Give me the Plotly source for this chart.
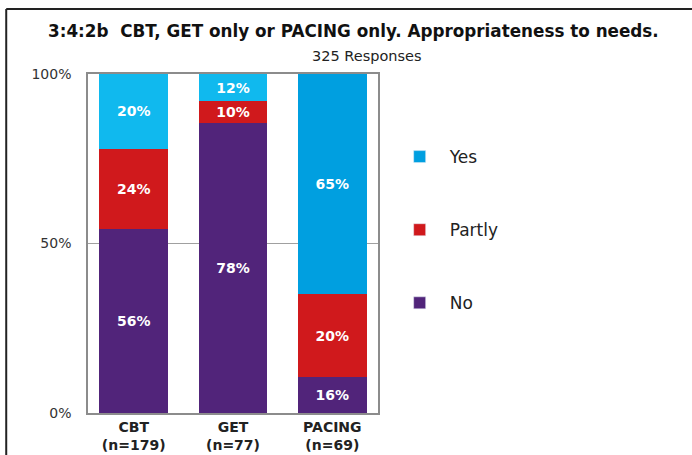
import plotly.graph_objects as go

categories = ["<b>CBT</b><br><b>(n=179)</b>", "<b>GET</b><br><b>(n=77)</b>", "<b>PACING</b><br><b>(n=69)</b>"]
series_names = ["No", "Partly", "Yes"]
# bar segment heights as drawn (% of axis)
no_vals = [54.2, 85.6, 10.6]
partly_vals = [23.7, 6.4, 24.4]
yes_vals = [22.1, 8.0, 65.0]
# printed labels
no_labels = ["56%", "78%", "16%"]
partly_labels = ["24%", "10%", "20%"]
yes_labels = ["20%", "12%", "65%"]

purple = "#51247a"
red = "#d0191c"
yes_bar_colors = ["#10b9ee", "#10b9ee", "#009fe0"]
yes_legend = "#009fe0"

W, H = 692, 455
ml, mr, mt, mb = 87.5, 313.7, 74, 42.3
pw = W - ml - mr
ph = H - mt - mb

def px_x(p):
    return (p - ml) / pw

def px_y(p):
    return (H - mb - p) / ph

FONT = "DejaVu Sans"
fig = go.Figure()
tfont = dict(family=FONT, size=14, color="white")
for name, vals, labs, col in [("No", no_vals, no_labels, purple),
                              ("Partly", partly_vals, partly_labels, red),
                              ("Yes", yes_vals, yes_labels, yes_bar_colors)]:
    fig.add_trace(go.Bar(
        x=categories, y=vals, name=name, text=["<b>%s</b>" % t for t in labs],
        textposition="inside", insidetextanchor="middle", textangle=0,
        constraintext="none", textfont=tfont, marker=dict(color=col, line=dict(width=0)),
        showlegend=False, hoverinfo="skip"))

for rank, (name, col) in enumerate([("Yes", yes_legend), ("Partly", red), ("No", purple)]):
    fig.add_trace(go.Bar(x=[None], y=[None], name=name, marker=dict(color=col),
                         legendgroup=name, legendrank=rank + 1, showlegend=True))

fig.update_layout(
    width=W, height=H, barmode="stack", bargap=0.31,
    margin=dict(l=ml, r=mr, t=mt, b=mb, autoexpand=False),
    paper_bgcolor="white", plot_bgcolor="white",
    font=dict(family=FONT, color="#222"),
    legend=dict(x=px_x(390), y=px_y(139), xanchor="left", yanchor="top",
                traceorder="grouped", tracegroupgap=48, itemwidth=50,
                font=dict(family=FONT, size=17, color="#222"), bgcolor="rgba(0,0,0,0)"),
    xaxis=dict(range=[-0.46, 2.46], showgrid=False, showline=True, mirror=True,
               linecolor="#8c8c8c", linewidth=1.5, ticks="",
               tickfont=dict(family=FONT, size=14, color="#222")),
    yaxis=dict(range=[0, 100], tickvals=[0, 50, 100], ticktext=["0%", "50%", "100%"],
               showgrid=True, gridcolor="#a0a0a0", gridwidth=1, showline=True, mirror=True,
               linecolor="#8c8c8c", linewidth=1.5, ticks="", zeroline=False,
               ticklabelstandoff=12,
               tickfont=dict(family=FONT, size=14, color="#333")),
    annotations=[
        dict(text="<b>3:4:2b  CBT, GET only or PACING only. Appropriateness to needs.</b>",
             x=px_x(354), y=px_y(31), xref="paper", yref="paper", showarrow=False,
             xanchor="center", yanchor="middle", font=dict(family=FONT, size=16.8, color="#111")),
        dict(text="325 Responses", x=px_x(367), y=px_y(56), xref="paper", yref="paper",
             showarrow=False, xanchor="center", yanchor="middle",
             font=dict(family=FONT, size=14.5, color="#222")),
    ],
    shapes=[
        dict(type="line", xref="paper", yref="paper", x0=px_x(5.5), x1=px_x(700),
             y0=px_y(9), y1=px_y(9), line=dict(color="#222", width=2)),
        dict(type="line", xref="paper", yref="paper", x0=px_x(5.5), x1=px_x(5.5),
             y0=px_y(9), y1=px_y(470), line=dict(color="#222", width=2)),
    ],
)

fig.write_html("out.html", config={"displayModeBar": False},
               post_script="document.body.style.margin='0';document.body.style.overflow='hidden';")
